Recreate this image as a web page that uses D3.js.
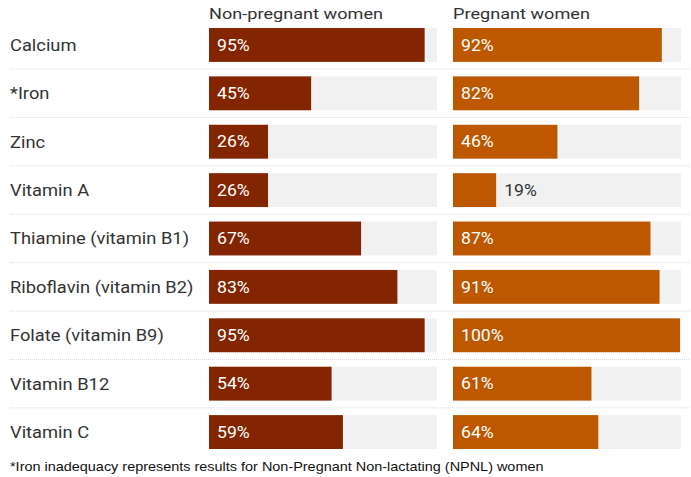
<!DOCTYPE html>
<html>
<head>
<meta charset="utf-8">
<script src="https://cdn.jsdelivr.net/npm/d3@7"></script>
<style>
  body { margin: 0; background: #fff; }
  text { font-family: Roboto, "Noto Sans", sans-serif; }
</style>
</head>
<body>
<svg id="chart"></svg>
<script>
// nutrient inadequacy data
const nutrients = ["Calcium", "*Iron", "Zinc", "Vitamin A", "Thiamine (vitamin B1)",
  "Riboflavin (vitamin B2)", "Folate (vitamin B9)", "Vitamin B12", "Vitamin C"];
const nonPregnant = [95, 45, 26, 26, 67, 83, 95, 54, 59];
const pregnant = [92, 82, 46, 19, 87, 91, 100, 61, 64];
const groups = ["Non-pregnant women", "Pregnant women"];
const footnote = "*Iron inadequacy represents results for Non-Pregnant Non-lactating (NPNL) women";

const width = 691, height = 477;

const svg = d3.select("#chart")
    .attr("width", width)
    .attr("height", height);

const y = d3.scaleBand()
    .domain(nutrients)
    .range([13.5, 463.5])
    .padding(0.3);

const panels = [
  {title: groups[0], values: nonPregnant, x0: 209, color: "#832500"},
  {title: groups[1], values: pregnant, x0: 453, color: "#bd5800"}
];

// the source image is a bit stretched horizontally, so text gets scaleX
const place = (x, yy, sx) => `translate(${x},${yy}) scale(${sx},1)`;

// separators between rows
const step = y.step();
const sepY = d => y(d) + y.bandwidth() + (step - y.bandwidth()) / 2;
svg.append("g")
  .selectAll("line")
  .data(nutrients.slice(0, -1))
  .join("line")
    .attr("x1", 10)
    .attr("x2", 690)
    .attr("y1", sepY)
    .attr("y2", sepY)
    .attr("stroke", "#d8d8d8")
    .attr("stroke-width", 1)
    .attr("stroke-dasharray", "1,1");

// row labels
svg.append("g")
  .selectAll("text")
  .data(nutrients)
  .join("text")
    .attr("transform", d => place(10, y(d) + y.bandwidth() / 2, 1.11))
    .attr("dy", "0.36em")
    .attr("fill", "#333")
    .style("font-size", "16.5px")
    .text(d => d);

panels.forEach(p => {
  const x = d3.scaleLinear().domain([0, 100]).range([p.x0, p.x0 + 227]);
  const g = svg.append("g");

  g.append("text")
      .attr("transform", place(p.x0, 18.5, 1.17))
      .attr("fill", "#333")
      .style("font-size", "15.5px")
      .text(p.title);

  // background track
  g.selectAll("rect.bg")
    .data(nutrients)
    .join("rect")
      .attr("class", "bg")
      .attr("x", x(0))
      .attr("y", d => y(d))
      .attr("width", x(100) - x(0) + 1)
      .attr("height", y.bandwidth())
      .attr("fill", "#f1f1f1");

  g.selectAll("rect.bar")
    .data(p.values)
    .join("rect")
      .attr("class", "bar")
      .attr("x", x(0))
      .attr("y", (d, i) => y(nutrients[i]))
      .attr("width", d => x(d) - x(0))
      .attr("height", y.bandwidth())
      .attr("fill", p.color);

  g.selectAll("text.val")
    .data(p.values)
    .join("text")
      .attr("class", "val")
      .attr("transform", (d, i) => place(d < 25 ? x(d) + 8 : x(0) + 8,
          y(nutrients[i]) + y.bandwidth() / 2, 1.1))
      .attr("dy", "0.36em")
      .attr("fill", d => d < 25 ? "#333" : "#fff")
      .style("font-size", "16px")
      .text(d => d + "%");
});

svg.append("text")
    .attr("transform", place(10, 471, 1.07))
    .attr("fill", "#111")
    .style("font-family", "'Liberation Sans', Arial, sans-serif")
    .style("font-size", "13.5px")
    .text(footnote);
</script>
</body>
</html>
